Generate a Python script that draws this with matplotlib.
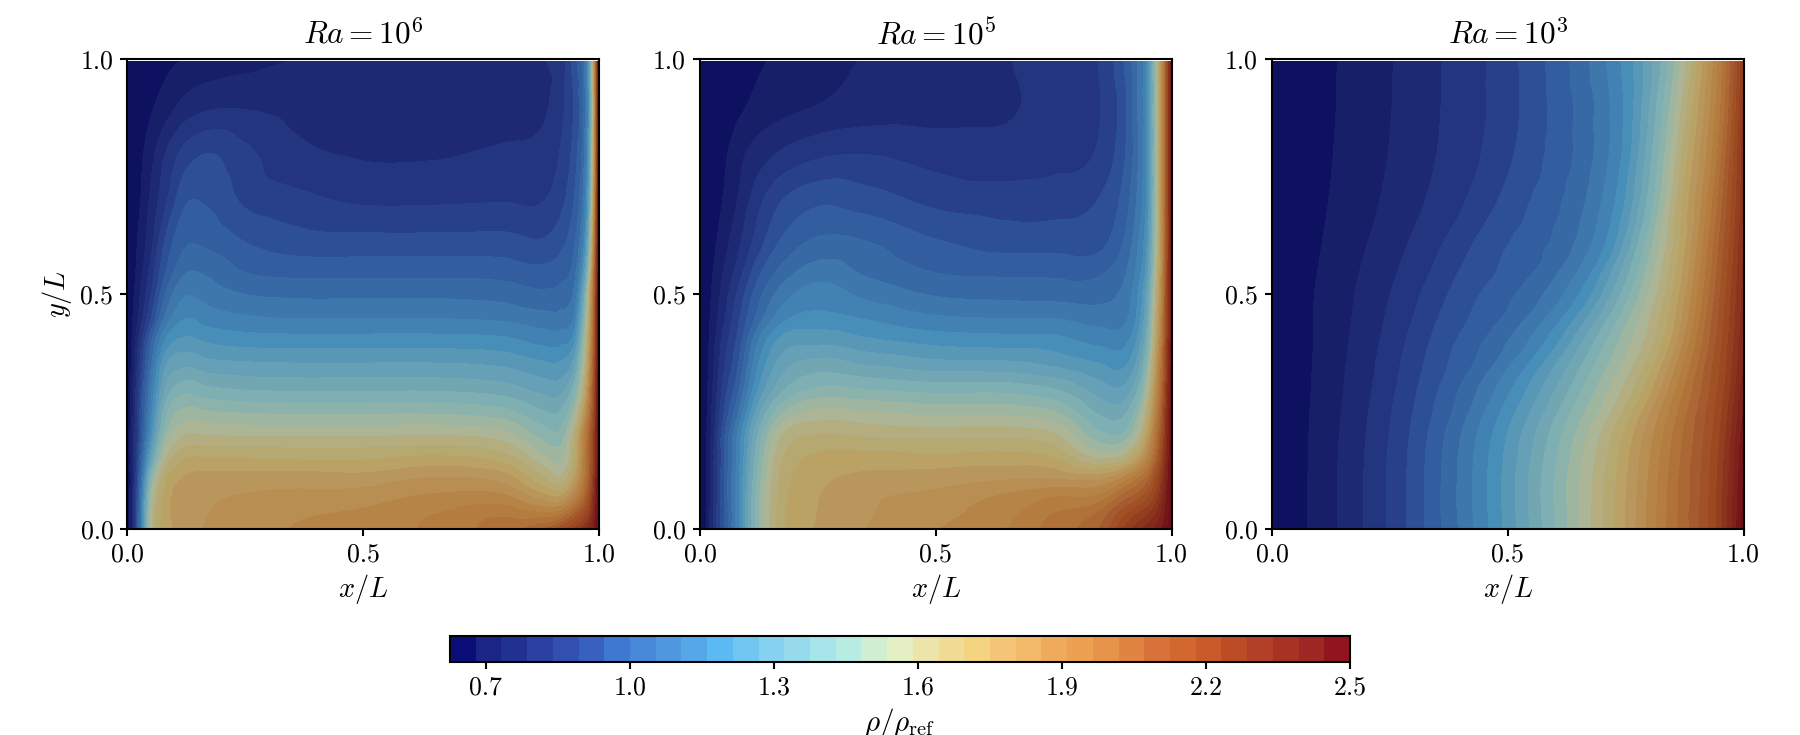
import numpy as np
from matplotlib import pyplot as plt
from matplotlib import tri
from matplotlib.colors import BoundaryNorm, ListedColormap, LinearSegmentedColormap, Normalize
from matplotlib.cm import ScalarMappable

plt.rcParams['font.family'] = ['cmr10', 'DejaVu Serif']
plt.rcParams['mathtext.fontset'] = 'cm'
plt.rcParams['axes.unicode_minus'] = False
plt.rcParams['axes.formatter.use_mathtext'] = True

# colorbar bands
rho_min, rho_max = 0.625, 2.5
bar_colors = ['#0d0d7a', '#1a2585', '#223092', '#2b40a0', '#3250b0', '#3860bf', '#3f78d0',
              '#4788d8', '#4f98e0', '#55a8e8', '#5bbaf2', '#70c6f0', '#84d2f0', '#96daec',
              '#a6e6ea', '#b6ece2', '#d0eed2', '#e4f0c4', '#ece4a8', '#f0dc94', '#f4d480',
              '#f4c478', '#f2ba6a', '#f0aa5c', '#eca050', '#e6944a', '#e08442', '#d8723a',
              '#d2682f', '#ca5a2a', '#bc4c26', '#b24026', '#a83224', '#a02824', '#92141e']
panel_shade = 0.76
panel_color_top = 2.45
field_levels = np.linspace(rho_min, rho_max, 37)

# Ra = 1e6
x_a = [0, .01, .025, .05, .08, .12, .17, .25, .35, .5, .65, .8, .88, .92, .95, .97, .98, .99, 1]
y_a = [0, .03, .07, .11, .15, .2, .25, .3, .35, .4, .45, .5, .55, .6, .7, .8, .9, .995]
rho_a = [
    [.63, .73, 1.0, 1.53, 1.68, 1.745, 1.775, 1.80, 1.825, 1.85, 1.885, 1.955, 2.03, 2.12, 2.2, 2.28, 2.33, 2.4, 2.5],
    [.63, .73, 1.0, 1.52, 1.69, 1.745, 1.77, 1.795, 1.815, 1.835, 1.875, 1.92, 1.9, 1.93, 2.05, 2.15, 2.22, 2.36, 2.5],
    [.63, .73, .98, 1.48, 1.68, 1.74, 1.76, 1.775, 1.785, 1.795, 1.83, 1.83, 1.74, 1.72, 1.85, 2.0, 2.12, 2.3, 2.5],
    [.63, .72, .95, 1.4, 1.64, 1.72, 1.735, 1.74, 1.74, 1.735, 1.77, 1.74, 1.62, 1.57, 1.72, 1.92, 2.05, 2.25, 2.5],
    [.63, .72, .92, 1.27, 1.55, 1.66, 1.67, 1.665, 1.66, 1.66, 1.68, 1.64, 1.53, 1.5, 1.65, 1.9, 2.03, 2.22, 2.5],
    [.63, .72, .88, 1.17, 1.45, 1.56, 1.56, 1.555, 1.555, 1.555, 1.56, 1.53, 1.44, 1.43, 1.62, 1.88, 2.02, 2.2, 2.5],
    [.63, .71, .87, 1.12, 1.38, 1.47, 1.46, 1.45, 1.445, 1.445, 1.445, 1.42, 1.36, 1.36, 1.5, 1.75, 1.93, 2.15, 2.5],
    [.63, .70, .85, 1.08, 1.3, 1.38, 1.36, 1.345, 1.34, 1.34, 1.34, 1.32, 1.28, 1.28, 1.4, 1.63, 1.85, 2.12, 2.5],
    [.63, .69, .82, 1.03, 1.24, 1.29, 1.27, 1.26, 1.255, 1.255, 1.255, 1.24, 1.21, 1.21, 1.3, 1.56, 1.78, 2.08, 2.5],
    [.63, .68, .79, .98, 1.15, 1.21, 1.19, 1.175, 1.17, 1.17, 1.17, 1.16, 1.13, 1.13, 1.2, 1.5, 1.72, 2.05, 2.5],
    [.63, .67, .74, .88, 1.05, 1.14, 1.12, 1.10, 1.09, 1.09, 1.09, 1.08, 1.06, 1.06, 1.12, 1.42, 1.66, 2.03, 2.5],
    [.63, .66, .72, .83, .99, 1.085, 1.07, 1.04, 1.03, 1.03, 1.03, 1.02, 1.0, 1.01, 1.07, 1.35, 1.62, 2.0, 2.5],
    [.63, .655, .70, .80, .93, 1.03, 1.03, .985, .97, .97, .97, .965, .95, .97, 1.03, 1.25, 1.5, 1.95, 2.5],
    [.63, .65, .69, .77, .90, .985, .985, .945, .92, .915, .915, .915, .90, .93, 1.0, 1.17, 1.42, 1.88, 2.5],
    [.63, .645, .67, .74, .82, .925, .93, .875, .85, .825, .825, .83, .83, .87, .95, 1.09, 1.3, 1.78, 2.5],
    [.63, .64, .66, .71, .78, .85, .885, .845, .795, .775, .775, .79, .80, .84, .92, 1.05, 1.25, 1.72, 2.5],
    [.63, .635, .65, .67, .70, .745, .77, .775, .765, .76, .755, .755, .77, .82, .90, 1.03, 1.22, 1.7, 2.5],
    [.63, .635, .64, .65, .665, .68, .695, .71, .73, .745, .755, .76, .778, .81, .92, 1.05, 1.25, 1.75, 2.5],
]

# Ra = 1e5
x_b = [0, .01, .025, .05, .08, .12, .17, .25, .35, .5, .65, .75, .85, .9, .93, .95, .97, .98, .99, 1]
y_b = [0, .03, .07, .11, .15, .2, .25, .3, .35, .4, .45, .5, .55, .6, .7, .8, .9, .995]
rho_b = [
    [.63, .66, .76, .93, 1.12, 1.42, 1.64, 1.725, 1.77, 1.82, 1.875, 1.95, 2.04, 2.2, 2.28, 2.32, 2.37, 2.4, 2.44, 2.48],
    [.63, .66, .76, .93, 1.12, 1.42, 1.64, 1.72, 1.765, 1.805, 1.86, 1.93, 2.0, 2.13, 2.2, 2.24, 2.31, 2.36, 2.42, 2.48],
    [.63, .66, .75, .93, 1.12, 1.42, 1.63, 1.715, 1.76, 1.783, 1.83, 1.87, 1.89, 2.0, 2.06, 2.12, 2.22, 2.3, 2.4, 2.48],
    [.63, .66, .75, .93, 1.12, 1.4, 1.62, 1.70, 1.73, 1.745, 1.76, 1.76, 1.75, 1.83, 1.92, 2.0, 2.15, 2.24, 2.36, 2.47],
    [.63, .66, .75, .92, 1.11, 1.38, 1.6, 1.68, 1.69, 1.68, 1.69, 1.67, 1.56, 1.6, 1.72, 1.85, 2.05, 2.18, 2.33, 2.47],
    [.63, .655, .74, .92, 1.1, 1.34, 1.55, 1.615, 1.605, 1.595, 1.6, 1.57, 1.42, 1.42, 1.55, 1.72, 1.97, 2.11, 2.3, 2.46],
    [.63, .655, .73, .88, 1.03, 1.26, 1.44, 1.52, 1.51, 1.49, 1.49, 1.46, 1.34, 1.34, 1.45, 1.62, 1.9, 2.06, 2.28, 2.45],
    [.63, .65, .72, .85, .97, 1.18, 1.33, 1.41, 1.40, 1.38, 1.38, 1.35, 1.27, 1.26, 1.36, 1.53, 1.84, 2.0, 2.24, 2.44],
    [.63, .65, .71, .82, .93, 1.13, 1.27, 1.325, 1.30, 1.27, 1.265, 1.24, 1.20, 1.19, 1.28, 1.45, 1.78, 1.97, 2.2, 2.42],
    [.63, .645, .70, .80, .90, 1.08, 1.21, 1.235, 1.21, 1.18, 1.17, 1.165, 1.13, 1.13, 1.22, 1.38, 1.72, 1.92, 2.18, 2.42],
    [.63, .64, .69, .77, .87, 1.0, 1.12, 1.16, 1.14, 1.10, 1.09, 1.09, 1.07, 1.08, 1.17, 1.33, 1.68, 1.88, 2.16, 2.4],
    [.63, .64, .68, .75, .84, .96, 1.06, 1.12, 1.08, 1.035, 1.025, 1.02, 1.02, 1.06, 1.15, 1.30, 1.64, 1.85, 2.14, 2.4],
    [.63, .64, .67, .73, .80, .91, 1.0, 1.065, 1.03, .985, .975, .975, .98, 1.03, 1.12, 1.25, 1.6, 1.82, 2.12, 2.4],
    [.63, .635, .66, .71, .77, .86, .95, 1.01, 1.0, .95, .925, .925, .93, 1.0, 1.1, 1.22, 1.57, 1.8, 2.1, 2.4],
    [.63, .635, .65, .68, .73, .81, .88, .925, .91, .87, .858, .86, .89, .96, 1.06, 1.18, 1.55, 1.78, 2.1, 2.4],
    [.63, .635, .645, .665, .71, .75, .785, .82, .83, .81, .80, .815, .845, .93, 1.04, 1.17, 1.55, 1.78, 2.1, 2.4],
    [.63, .63, .64, .65, .665, .69, .71, .73, .75, .76, .775, .80, .833, .92, 1.05, 1.17, 1.55, 1.78, 2.1, 2.4],
    [.63, .63, .635, .645, .655, .67, .685, .71, .732, .755, .778, .81, .84, .94, 1.05, 1.17, 1.55, 1.78, 2.1, 2.4],
]

# Ra = 1e3: nearly vertical isolines, so this one stores where each density sits along x
rho_c_levels = [.625, .677, .781, .885, 1.146, 1.406, 1.667, 1.927, 2.188, 2.5]
y_c = [0, .1, .2, .3, .4, .5, .6, .7, .8, .9, .995]
x_c = [
    [0, .076, .194, .285, .46, .6, .726, .837, .942, 1.005],
    [0, .076, .194, .285, .457, .598, .73, .84, .944, 1.01],
    [0, .078, .199, .291, .467, .615, .745, .85, .95, 1.015],
    [0, .083, .212, .309, .51, .66, .79, .875, .96, 1.025],
    [0, .088, .228, .334, .58, .71, .83, .90, .968, 1.035],
    [0, .09, .251, .373, .652, .76, .85, .915, .974, 1.04],
    [0, .105, .285, .422, .705, .79, .864, .925, .98, 1.04],
    [0, .12, .325, .479, .728, .81, .871, .935, .985, 1.04],
    [0, .13, .349, .514, .742, .82, .882, .945, .988, 1.035],
    [0, .136, .358, .525, .745, .83, .893, .952, .992, 1.03],
    [0, .138, .36, .523, .74, .841, .903, .956, .995, 1.03],
]

titles = ['$Ra = 10^6$', '$Ra = 10^5$', '$Ra = 10^3$']
ticks = [0.0, 0.5, 1.0]
tick_labels = ['0.0', '0.5', '1.0']
cbar_ticks = [0.7, 1.0, 1.3, 1.6, 1.9, 2.2, 2.5]
cbar_labels = ['0.7', '1.0', '1.3', '1.6', '1.9', '2.2', '2.5']

bar_rgb = np.array(ListedColormap(bar_colors)(np.arange(35)))
panel_rgb = bar_rgb.copy()
panel_rgb[:, :3] *= panel_shade
panel_cmap = LinearSegmentedColormap.from_list('rho_panel', panel_rgb, N=256)


def draw_field(ax, X, Y, Z):
    # triangles over the structured table, smoothed by matplotlib's own refiner
    ny, nx = Z.shape
    idx = np.arange(ny * nx).reshape(ny, nx)
    a, b, c, d = idx[:-1, :-1].ravel(), idx[:-1, 1:].ravel(), idx[1:, 1:].ravel(), idx[1:, :-1].ravel()
    triangles = np.vstack([np.c_[a, b, c], np.c_[a, c, d]])
    mesh = tri.Triangulation(X.ravel(), Y.ravel(), triangles)
    interp = tri.CubicTriInterpolator(mesh, Z.ravel(), kind='geom')
    fine, z_fine = tri.UniformTriRefiner(mesh).refine_field(Z.ravel(), triinterpolator=interp, subdiv=3)
    z_fine = np.clip(np.asarray(z_fine), rho_min + 1e-3, rho_max - 1e-3)
    ax.tricontourf(fine, z_fine, levels=field_levels, cmap=panel_cmap,
                   norm=Normalize(rho_min, panel_color_top))


fig = plt.figure(figsize=(12, 4.9), dpi=150)
W, H = 1800.0, 735.0
lefts = [127.4, 700.0, 1272.0]

fields = [
    (*np.meshgrid(x_a, y_a), np.array(rho_a)),
    (*np.meshgrid(x_b, y_b), np.array(rho_b)),
    (np.array(x_c), np.tile(np.array(y_c)[:, None], (1, len(rho_c_levels))),
     np.tile(rho_c_levels, (len(y_c), 1))),
]

for i, (X, Y, Z) in enumerate(fields):
    ax = fig.add_axes([lefts[i] / W, (H - 529.0) / H, 471.5 / W, 470.3 / H])
    draw_field(ax, X, Y, Z)
    ax.set_xlim(0, 1)
    ax.set_ylim(0, 1)
    ax.set_xticks(ticks)
    ax.set_yticks(ticks)
    ax.set_xticklabels(tick_labels)
    ax.set_yticklabels(tick_labels)
    ax.tick_params(labelsize=12.4, length=3.2, width=1.0, pad=3.5)
    ax.set_title(titles[i], fontsize=15, pad=7)
    ax.set_xlabel('$x/L$', fontsize=13.5, labelpad=2.5)
    if i == 0:
        ax.set_ylabel('$y/L$', fontsize=13.5, labelpad=3)
    for sp in ax.spines.values():
        sp.set_linewidth(1.0)

cax = fig.add_axes([450 / W, (H - 662) / H, 900 / W, 26 / H])
bar_edges = np.linspace(rho_min, rho_max, 36)
sm = ScalarMappable(norm=BoundaryNorm(bar_edges, 35), cmap=ListedColormap(bar_colors))
cb = fig.colorbar(sm, cax=cax, orientation='horizontal', spacing='uniform', drawedges=False)
cb.set_ticks(cbar_ticks, labels=cbar_labels)
cb.ax.minorticks_off()
cb.ax.tick_params(labelsize=12.4, length=3.2, width=1.0, pad=3.5)
cb.outline.set_linewidth(1.0)
cb.set_label(r'$\rho/\rho_{\mathrm{ref}}$', fontsize=14, labelpad=3)

fig.savefig('out.png', dpi=150)
